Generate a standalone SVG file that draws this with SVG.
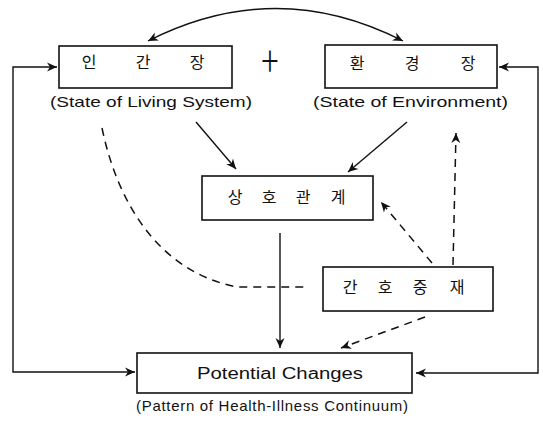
<svg xmlns="http://www.w3.org/2000/svg" width="543" height="422" viewBox="0 0 543 422">
<defs>
<marker id="arr" markerWidth="12" markerHeight="10" refX="10" refY="5" orient="auto" markerUnits="userSpaceOnUse">
<path d="M0,0.5 L10,5 L0,9.5 L3,5 z" fill="#111"/>
</marker>
<marker id="arrs" markerWidth="12" markerHeight="10" refX="10" refY="5" orient="auto-start-reverse" markerUnits="userSpaceOnUse">
<path d="M0,0.5 L10,5 L0,9.5 L3,5 z" fill="#111"/>
</marker>
<style>
.box{fill:#fff;stroke:#111;stroke-width:1.6}
.ln{fill:none;stroke:#111;stroke-width:1.4}
.dash{fill:none;stroke:#111;stroke-width:1.5;stroke-dasharray:8 6}
.ko{font-family:"Noto Sans CJK KR","Noto Sans",sans-serif;font-size:16px;fill:#111;text-anchor:middle}
.en{font-family:"Liberation Sans",Arial,sans-serif;font-size:15px;fill:#111;text-anchor:middle}
</style>
</defs>
<rect width="543" height="422" fill="#fff"/>

<g id="connectors">
<path class="ln" d="M403,41 Q276,-24 148,41" marker-start="url(#arrs)" marker-end="url(#arr)"/>
<path class="ln" d="M13,220 L13,67 L57,67" marker-end="url(#arr)"/>
<path class="ln" d="M13,220 L13,372 L135,372" marker-end="url(#arr)"/>
<path class="ln" d="M538,220 L538,67 L499,67" marker-end="url(#arr)"/>
<path class="ln" d="M538,220 L538,373 L416,373" marker-end="url(#arr)"/>
<path class="ln" d="M196,122 L236,169" marker-end="url(#arr)"/>
<path class="ln" d="M407,122 L348,172" marker-end="url(#arr)"/>
<path class="ln" d="M280,233 L280,348" marker-end="url(#arr)"/>
<path class="dash" d="M102,128 C118,205 160,272 237,287 L307,287"/>
<path class="dash" d="M432,263 L381,202" marker-end="url(#arr)"/>
<path class="dash" d="M453,265 L456,133" marker-end="url(#arr)"/>
<path class="dash" d="M425,317 L341,348" marker-end="url(#arr)"/>
</g>

<g id="plus">
<text x="270" y="75" font-family="'Noto Sans CJK KR', sans-serif" font-weight="200" font-size="36" text-anchor="middle" fill="#111" transform="translate(270,63) scale(0.9,1.2) translate(-270,-63)">+</text>
</g>

<g id="node-human">
<rect class="box" x="59" y="46" width="173" height="42"/>
<text class="ko" x="89" y="68">인</text>
<text class="ko" x="143" y="68">간</text>
<text class="ko" x="197" y="68">장</text>
<text class="en" x="151" y="107" textLength="202" lengthAdjust="spacingAndGlyphs">(State of Living System)</text>
</g>

<g id="node-env">
<rect class="box" x="325" y="45" width="172" height="43"/>
<text class="ko" x="357" y="69">환</text>
<text class="ko" x="412" y="69">경</text>
<text class="ko" x="468" y="69">장</text>
<text class="en" x="410.5" y="107" textLength="195" lengthAdjust="spacingAndGlyphs">(State of Environment)</text>
</g>

<g id="node-interaction">
<rect class="box" x="202" y="176" width="171" height="44"/>
<text class="ko" x="235" y="203">상</text>
<text class="ko" x="269" y="203">호</text>
<text class="ko" x="303" y="203">관</text>
<text class="ko" x="338" y="203">계</text>
</g>

<g id="node-nursing">
<rect class="box" x="323" y="267" width="170" height="44"/>
<text class="ko" x="350" y="293">간</text>
<text class="ko" x="385" y="293">호</text>
<text class="ko" x="420" y="293">중</text>
<text class="ko" x="457" y="293">재</text>
</g>

<g id="node-changes">
<rect class="box" x="137" y="353" width="275" height="40"/>
<text class="en" x="280" y="379" style="font-size:16px" textLength="166" lengthAdjust="spacingAndGlyphs">Potential Changes</text>
<text class="en" x="272" y="411" textLength="272" lengthAdjust="spacing">(Pattern of Health-Illness Continuum)</text>
</g>
</svg>
